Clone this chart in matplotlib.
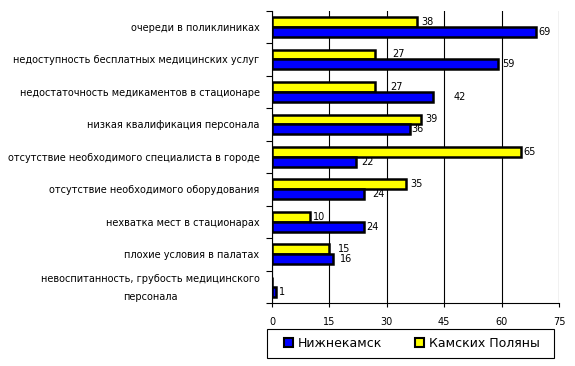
import matplotlib
matplotlib.use("Agg")
import matplotlib.pyplot as plt
from matplotlib.patches import Patch, Rectangle
import numpy as np

categories = [
    "очереди в поликлиниках",
    "недоступность бесплатных медицинских услуг",
    "недостаточность медикаментов в стационаре",
    "низкая квалификация персонала",
    "отсутствие необходимого специалиста в городе",
    "отсутствие необходимого оборудования",
    "нехватка мест в стационарах",
    "плохие условия в палатах",
    "невоспитанность, грубость медицинского\nперсонала",
]
nizhnekamsk = [69, 59, 42, 36, 22, 24, 24, 16, 1]
kamskie = [38, 27, 27, 39, 65, 35, 10, 15, 0]
series_names = ["Нижнекамск", "Камских Поляны"]
xticks = [0, 15, 30, 45, 60, 75]

# label x-offsets (points) mimicking the original placement
off_blue = [2, 3, 15, 1, 4, 6, 2, 5, 2]
off_yel = [3, 12, 11, 3, 2, 3, 2, 6, 0]

plt.rcParams['font.family'] = ['DejaVu Sans']
fig = plt.figure(figsize=(5.75, 3.66), dpi=100)
ax = fig.add_axes([272/575, 1-303/366, (559-272)/575, (303-10.5)/366])

n = len(categories)
y = np.arange(n)
h = 0.3
ax.barh(y - h/2, kamskie, height=h, color="#FFFF00", edgecolor="black", linewidth=1.8, zorder=3)
ax.barh(y + h/2, nizhnekamsk, height=h, color="#0000FF", edgecolor="black", linewidth=1.8, zorder=3)

for i in range(n):
    if kamskie[i] > 0:
        ax.annotate(str(kamskie[i]), (kamskie[i], y[i] - h/2), xytext=(off_yel[i], 0),
                    textcoords="offset points", va="center", ha="left", fontsize=7)
    if nizhnekamsk[i] > 0:
        ax.annotate(str(nizhnekamsk[i]), (nizhnekamsk[i], y[i] + h/2), xytext=(off_blue[i], 0),
                    textcoords="offset points", va="center", ha="left", fontsize=7)

ax.set_xlim(0, 75)
ax.set_ylim(n - 0.5, -0.5)
ax.set_xticks(xticks)
ax.set_xticklabels([str(v) for v in xticks], fontsize=7)
ax.xaxis.grid(True, color="black", linewidth=0.8, zorder=0)
ax.set_axisbelow(True)

ax.set_yticks(np.arange(-0.5, n, 1.0))
ax.set_yticklabels([])
ytick_pos = list(y[:-1].astype(float)) + [n - 1 - 0.1]
ax.set_yticks(ytick_pos, minor=True)
ax.set_yticklabels(categories, minor=True, fontsize=7, linespacing=1.9, ha="right")
ax.tick_params(axis="y", which="minor", length=0, pad=9)
ax.tick_params(axis="y", which="major", length=4, width=0.8, direction="out")
ax.tick_params(axis="x", length=3, width=0.8, pad=7)
for lbl in ax.get_yticklabels(minor=True):
    lbl.set_multialignment("center")

for s in ["top", "right"]:
    ax.spines[s].set_visible(False)
for s in ["left", "bottom"]:
    ax.spines[s].set_linewidth(0.8)

# legend frame
fig.add_artist(Rectangle((267/575, 1-358/366), 287/575, 29/366, transform=fig.transFigure,
                         facecolor="white", edgecolor="black", linewidth=0.8))
handles = [Patch(facecolor="#0000FF", edgecolor="black", linewidth=1.5),
           Patch(facecolor="#FFFF00", edgecolor="black", linewidth=1.5)]
leg = fig.legend(handles, series_names, loc="center",
                 bbox_to_anchor=(412/575, 1-343.5/366),
                 ncol=2, fontsize=9, frameon=False,
                 handlelength=0.7, handleheight=0.7, handletextpad=0.4, columnspacing=2.6,
                 borderpad=0, borderaxespad=0)

fig.savefig("out.png", dpi=100)
